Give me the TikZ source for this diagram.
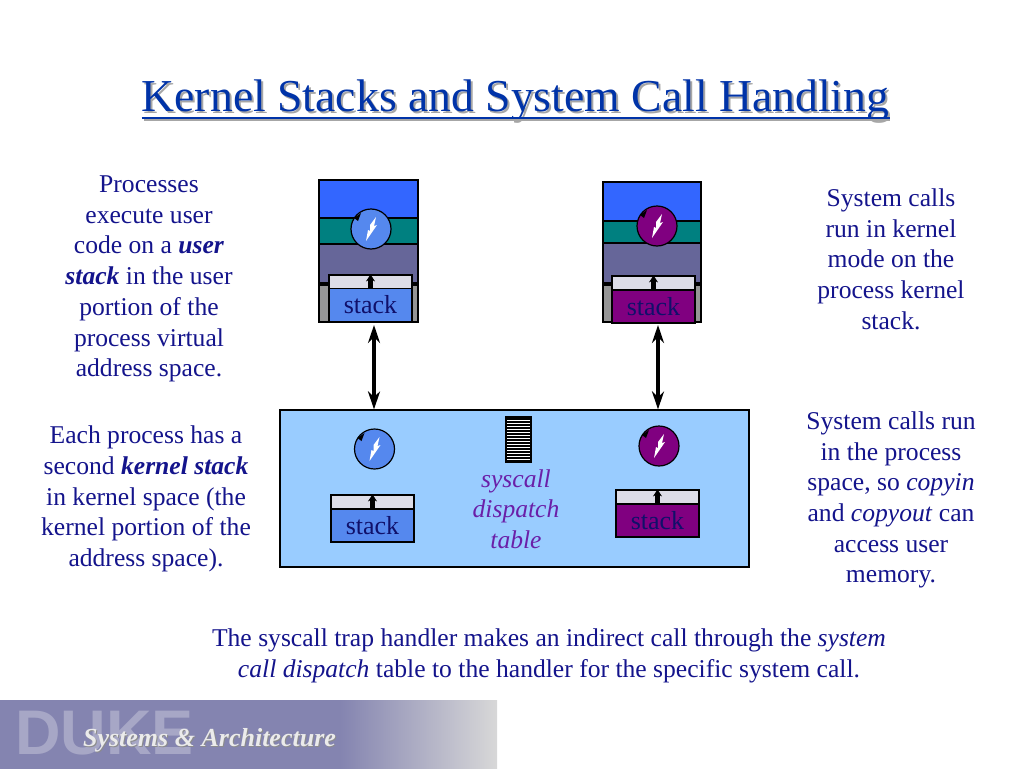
\documentclass[tikz,border=0pt]{standalone}
\usepackage{fontspec}
\setmainfont{Liberation Serif}
\setsansfont{Liberation Sans}
\usetikzlibrary{arrows.meta}
\usetikzlibrary{calc}
\definecolor{navytext}{HTML}{14148C}
\definecolor{stackink}{HTML}{10106A}
\definecolor{titleblue}{HTML}{0033A8}
\definecolor{userblue}{HTML}{3366FF}
\definecolor{layerteal}{HTML}{008080}
\definecolor{layerslate}{HTML}{666699}
\definecolor{layergrey}{HTML}{969696}
\definecolor{stackblue}{HTML}{5588EE}
\definecolor{stackpurple}{HTML}{800080}
\definecolor{stackpale}{HTML}{DDDDE8}
\definecolor{kernelblue}{HTML}{99CCFF}
\definecolor{tablepurple}{HTML}{6A1FA8}
\definecolor{footerblue}{HTML}{8484B0}
\definecolor{footerpale}{HTML}{D8D8D8}
\tikzset{
  para/.style={align=center, text=navytext, font=\fontsize{25.6}{30.7}\selectfont, inner sep=0},
  layer/.style={draw=black, line width=1.2pt},
  stacktop/.style={draw=black, line width=1.2pt, fill=stackpale, minimum width=83, minimum height=14, inner sep=0},
  stackbody/.style={draw=black, line width=1.2pt, minimum width=83, minimum height=33, inner sep=0,
    text=stackink, font=\fontsize{26}{26}\selectfont},
  threadball/.style={circle, draw=black, line width=1.2pt, minimum size=40, inner sep=0},
  memlink/.style={<->, >={Stealth[length=18pt,width=12pt]}, line width=4pt},
  growtip/.style={-{Stealth[length=7pt,width=9pt]}, line width=4.5pt}
}
\newcommand{\zap}[1]{\fill[white] ($(#1)+(5,-12)$) -- ($(#1)+(3,-3)$) -- ($(#1)+(6,-4)$) -- ($(#1)+(-5,12)$) -- ($(#1)+(-3,1)$) -- ($(#1)+(-1,2)$) -- ($(#1)+(-1,-4)$) -- cycle;
  \fill[black] ($(#1)+(-17,-11)$) -- ($(#1)+(-10,-16)$) -- ($(#1)+(-13,-8)$) -- cycle;}
\begin{document}
\begin{tikzpicture}[x=1pt, y=-1pt]
  \useasboundingbox (0,0) rectangle (1024,768);
  \fill[white] (0,0) rectangle (1024,768);

  % title
  \node[text=black!35, font=\fontsize{45.7}{46}\selectfont, inner sep=0] (titleshadow) at (517.5,103) {Kernel Stacks and System Call Handling};
  \node[text=titleblue, font=\fontsize{45.7}{46}\selectfont, inner sep=0] (title) at (515.5,101) {Kernel Stacks and System Call Handling};
  \draw[black!35, line width=2.5pt] (144,120) -- (890,120);
  \draw[titleblue, line width=2.5pt] (title.south west |- 0,118) -- (title.south east |- 0,118);

  % side texts
  \node[para] (textA) at (149,279) {Processes\\execute user\\code on a \textbf{\textit{user}}\\\textbf{\textit{stack}} in the user\\portion of the\\process virtual\\address space.};
  \node[para] (textB) at (146,499) {Each process has a\\second \textbf{\textit{kernel stack}}\\in kernel space (the\\kernel portion of the\\address space).};
  \node[para] (textC) at (891,259) {System calls\\run in kernel\\mode on the\\process kernel\\stack.};
  \node[para] (textD) at (891,500) {System calls run\\in the process\\space, so \textit{copyin}\\and \textit{copyout} can\\access user\\memory.};
  \node[para] (textE) at (549,656) {The syscall trap handler makes an indirect call through the \textit{system}\\\textit{call dispatch} table to the handler for the specific system call.};

  % left process
  \draw[layer, fill=userblue] (319,180) rectangle (418,218);
  \draw[layer, fill=layerteal] (319,218) rectangle (418,244);
  \draw[layer, fill=layerslate] (319,244) rectangle (418,283);
  \draw[layer, fill=layergrey] (319,285) rectangle (418,322);
  \node[stacktop] (topA) at (370.5,282) {};
  \node[stackbody, fill=stackblue] (stackA) at (370.5,305) {stack};
  \draw[growtip] (stackA.north) -- (topA.north);
  \node[threadball, fill=stackblue] (ballA) at (371,229) {};
  \zap{ballA}

  % right process
  \draw[layer, fill=userblue] (603,182) rectangle (701,221);
  \draw[layer, fill=layerteal] (603,221) rectangle (701,243);
  \draw[layer, fill=layerslate] (603,243) rectangle (701,283);
  \draw[layer, fill=layergrey] (603,285) rectangle (701,322);
  \node[stacktop] (topB) at (653.5,283) {};
  \node[stackbody, fill=stackpurple] (stackB) at (653.5,306.5) {stack};
  \draw[growtip] (stackB.north) -- (topB.north);
  \node[threadball, fill=stackpurple] (ballB) at (657,226) {};
  \zap{ballB}

  % kernel space
  \node[draw=black, line width=1.2pt, fill=kernelblue, minimum width=469, minimum height=157, inner sep=0] (kernel) at (514.5,488.5) {};
  \node[threadball, fill=stackblue] (ballC) at (374.5,449) {};
  \zap{ballC}
  \node[threadball, fill=stackpurple] (ballD) at (659,446) {};
  \zap{ballD}
  \node[stacktop] (topC) at (372.5,502) {};
  \node[stackbody, fill=stackblue] (stackC) at (372.5,525.5) {stack};
  \draw[growtip] (stackC.north) -- (topC.north);
  \node[stacktop] (topD) at (657.5,497) {};
  \node[stackbody, fill=stackpurple] (stackD) at (657.5,520.5) {stack};
  \draw[growtip] (stackD.north) -- (topD.north);

  % dispatch table
  \draw[black!60!white, fill=white, line width=1pt] (506,417) rectangle (531,462);
  \foreach \y in {419,422,...,461} {
    \draw[black, line width=1.2pt] (506,\y) -- (531,\y);
  }
  \draw[black, line width=1.2pt] (506,417) rectangle (531,462);
  \node[para, text=tablepurple, font=\fontsize{25.6}{30.7}\itshape] (tablelabel) at (516,509) {syscall\\dispatch\\table};

  % links
  \coordinate (linkAtop) at (374,325);
  \coordinate (linkBtop) at (658,325);
  \draw[memlink] (linkAtop) -- (linkAtop |- kernel.north);
  \draw[memlink] (linkBtop) -- (linkBtop |- kernel.north);

  % footer
  \fill[footerblue] (0,700) rectangle (341,769);
  \shade[left color=footerblue, right color=footerpale] (340,700) rectangle (497,770);
  \node[text=footerblue!72!white, font=\sffamily\bfseries\fontsize{63}{63}\selectfont, inner sep=0] (duke) at (104.5,733) {DUKE};
  \node[text=black!45, font=\bfseries\itshape\fontsize{26}{26}\selectfont, inner sep=0] (brandshadow) at (210.5,741) {Systems \& Architecture};
  \node[text=white!92!black, font=\bfseries\itshape\fontsize{26}{26}\selectfont, inner sep=0] (brand) at (209.5,740) {Systems \& Architecture};
\end{tikzpicture}
\end{document}
